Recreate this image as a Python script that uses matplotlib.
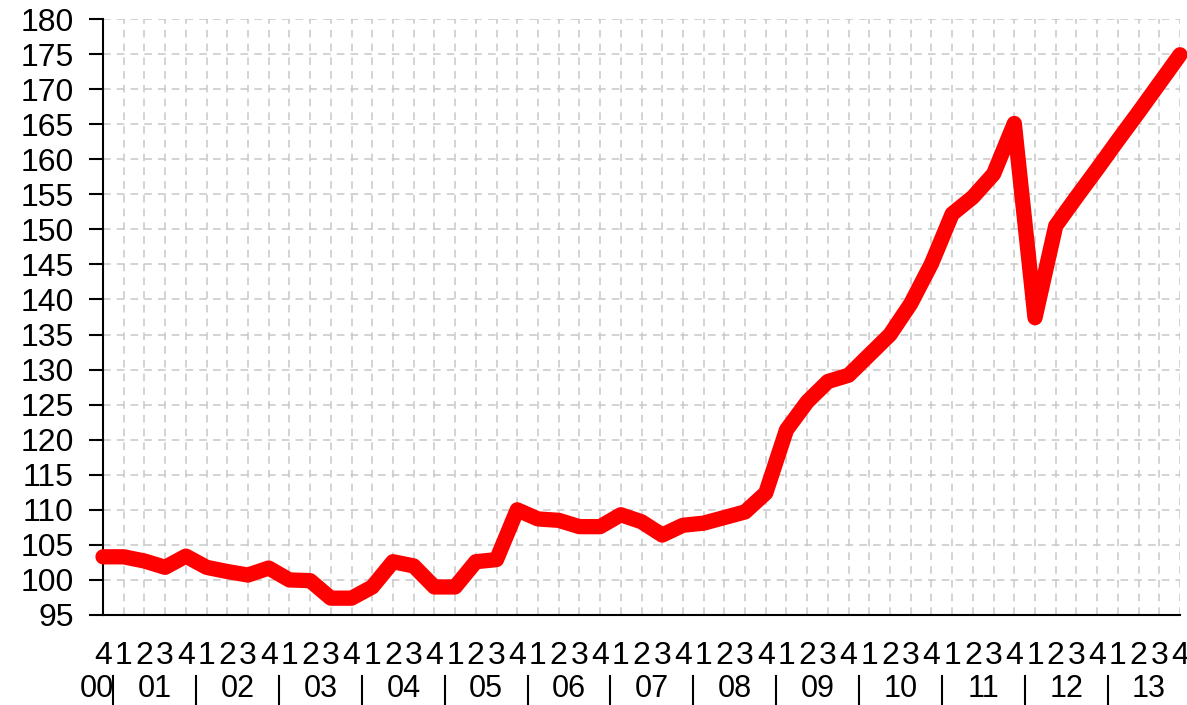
import numpy as np
import matplotlib
matplotlib.use("Agg")
import matplotlib.pyplot as plt
import matplotlib.transforms as mtransforms

# quarterly index, Q4 2000 .. Q4 2013
values = [103.3, 103.3, 102.7, 101.8, 103.4, 101.8, 101.2, 100.7, 101.7, 100.0,
          99.9, 97.4, 97.4, 99.0, 102.6, 102.0, 99.0, 99.0, 102.6, 102.9,
          110.0, 108.7, 108.5, 107.6, 107.6, 109.3, 108.3, 106.4, 107.8, 108.1,
          108.9, 109.7, 112.4, 121.4, 125.4, 128.3, 129.2, 132.1, 135.0, 139.4,
          145.1, 152.2, 154.6, 157.9, 165.1, 137.4, 150.5, 154.6, 158.6, 162.7,
          166.7, 170.8, 174.9]
quarter_labels = ['4'] + ['1', '2', '3', '4'] * 13
year_labels = ['00', '01', '02', '03', '04', '05', '06', '07', '08', '09',
               '10', '11', '12', '13']
y_ticks = list(range(95, 181, 5))

plt.rcParams['font.family'] = ['Liberation Sans', 'DejaVu Sans']
FS = 23

fig = plt.figure(figsize=(11.87, 7.05), dpi=100)
ax = fig.add_axes([103 / 1187, 90 / 705, (1180 - 103) / 1187, (615 - 19) / 705])

x = np.arange(len(values))
ax.plot(x, values, color='#ff0000', lw=11, solid_capstyle='round',
        solid_joinstyle='round', zorder=3, clip_on=False)

ax.set_xlim(0, len(values) - 1)
ax.set_ylim(95, 180)
ax.set_yticks(y_ticks)
ax.set_yticklabels([str(v) for v in y_ticks], fontsize=FS)
ax.tick_params(axis='y', length=10, width=1.5, pad=11, colors='black')

ax.set_xticks(x)
ax.set_xticklabels(quarter_labels, fontsize=FS)
ax.tick_params(axis='x', length=0, pad=19)

ax.grid(True, color='#c8c8c8', linestyle=(0, (5, 4)), linewidth=1.1)
for s in ['top', 'right']:
    ax.spines[s].set_visible(False)
for s in ['left', 'bottom']:
    ax.spines[s].set_linewidth(1.5)
    ax.spines[s].set_color('black')

# second row: years and separators
trans = mtransforms.blended_transform_factory(ax.transData, ax.transAxes)
year_pos = [-0.3] + [4 * k - 1.5 for k in range(1, len(year_labels))]
for pos, lab in zip(year_pos, year_labels):
    ax.text(pos, -0.137, lab, transform=trans, ha='center', va='baseline',
            fontsize=22, clip_on=False)
for k in range(len(year_labels) - 1):
    sep = 4 * k + 0.5
    ax.plot([sep, sep], [-0.103, -0.15], transform=trans, color='black',
            lw=1.5, clip_on=False)

fig.savefig('out.png', dpi=100)
